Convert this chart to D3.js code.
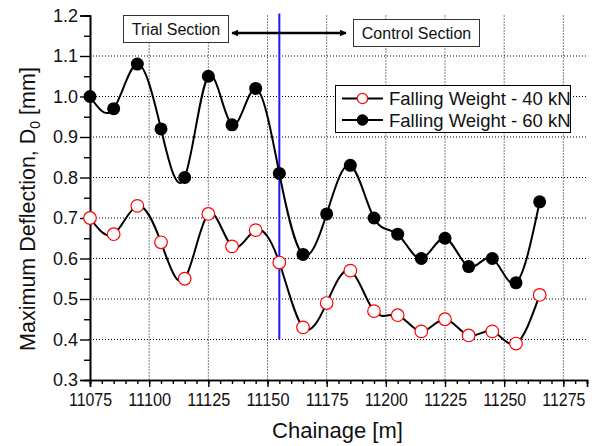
<!DOCTYPE html>
<html>
<head>
<meta charset="utf-8">
<script src="https://cdn.jsdelivr.net/npm/d3@7"></script>
<style>
  body { margin: 0; background: #fff; }
  text { font-family: "Liberation Sans", Arial, sans-serif; fill: #111; }
</style>
</head>
<body>
<script>
var chainage = [11075, 11085, 11095, 11105, 11115, 11125, 11135, 11145, 11155, 11165,
                11175, 11185, 11195, 11205, 11215, 11225, 11235, 11245, 11255, 11265];
var fw40 = [0.70, 0.66, 0.73, 0.64, 0.55, 0.71, 0.63, 0.67, 0.59, 0.43,
            0.49, 0.57, 0.47, 0.46, 0.42, 0.45, 0.41, 0.42, 0.39, 0.51];
var fw60 = [1.00, 0.97, 1.08, 0.92, 0.80, 1.05, 0.93, 1.02, 0.81, 0.61,
            0.71, 0.83, 0.70, 0.66, 0.60, 0.65, 0.58, 0.60, 0.54, 0.74];
var xTicks = [11075, 11100, 11125, 11150, 11175, 11200, 11225, 11250, 11275];
var yTicks = [0.3, 0.4, 0.5, 0.6, 0.7, 0.8, 0.9, 1.0, 1.1, 1.2];
var divider = 11155;

var width = 594;
var height = 446;
var margin = { left: 90, right: 7, top: 15.5, bottom: 66 };

var x = d3.scaleLinear()
  .domain([11075, 11285])
  .range([margin.left, width - margin.right]);

var y = d3.scaleLinear()
  .domain([0.3, 1.2])
  .range([height - margin.bottom, margin.top]);

var svg = d3.select("body")
  .append("svg")
  .attr("width", width)
  .attr("height", height);

// grid
svg.append("g").selectAll("line")
  .data(yTicks.filter(function(d) { return d > 0.35 && d < 1.15; }))
  .enter().append("line")
  .attr("x1", x.range()[0]).attr("x2", x.range()[1])
  .attr("y1", function(d) { return y(d); }).attr("y2", function(d) { return y(d); })
  .attr("stroke", "#000").attr("stroke-width", 1).attr("stroke-dasharray", "1,2");

svg.append("g").selectAll("line")
  .data(xTicks.slice(1))
  .enter().append("line")
  .attr("x1", function(d) { return x(d); }).attr("x2", function(d) { return x(d); })
  .attr("y1", y(1.2)).attr("y2", y(0.3))
  .attr("stroke", "#000").attr("stroke-width", 1).attr("stroke-dasharray", "1,2");

// axes
var xAxis = d3.axisBottom(x).tickValues(xTicks).tickFormat(d3.format("d")).tickSize(7).tickPadding(6);
var xMinor = d3.axisBottom(x).tickValues(d3.range(11075, 11286, 5)).tickFormat("").tickSize(4);
var yAxis = d3.axisLeft(y).tickValues(yTicks).tickFormat(d3.format(".1f")).tickSize(10).tickPadding(2);
var yMinor = d3.axisLeft(y).tickValues(d3.range(0.35, 1.2, 0.1)).tickFormat("").tickSize(6);

function style(g) {
  g.select(".domain").attr("stroke", "#000").attr("stroke-width", 1.6);
  g.selectAll(".tick line").attr("stroke", "#000").attr("stroke-width", 1.4);
  g.selectAll(".tick text").attr("font-size", 18).attr("font-family", "Liberation Sans, Arial, sans-serif").attr("fill", "#111");
}

svg.append("g").attr("transform", "translate(0," + y(0.3) + ")").call(xMinor).call(style);
svg.append("g").attr("transform", "translate(0," + y(0.3) + ")").call(xAxis).call(style)
  .selectAll(".tick text").attr("textLength", 43).attr("lengthAdjust", "spacingAndGlyphs");
svg.append("g").attr("transform", "translate(" + x(11075) + ",0)").call(yMinor).call(style);
svg.append("g").attr("transform", "translate(" + x(11075) + ",0)").call(yAxis).call(style);

// axis titles
svg.append("text")
  .attr("x", 337.5)
  .attr("y", 438)
  .attr("text-anchor", "middle")
  .attr("font-size", 22)
  .text("Chainage [m]");

var yl = svg.append("text")
  .attr("transform", "translate(35," + 209 + ") rotate(-90)")
  .attr("text-anchor", "middle")
  .attr("font-size", 21.5);
yl.append("tspan").text("Maximum Deflection, D");
yl.append("tspan").attr("font-size", 14).attr("dy", 5).text("0");
yl.append("tspan").attr("dy", -5).text(" [mm]");

// divider
svg.append("line")
  .attr("x1", x(divider)).attr("x2", x(divider))
  .attr("y1", y(1.2) - 2).attr("y2", y(0.4))
  .attr("stroke", "#1a1aff").attr("stroke-width", 2);

// curves
var line = d3.line()
  .x(function(d) { return x(d[0]); })
  .y(function(d) { return y(d[1]); })
  .curve(d3.curveNatural);

var s40 = chainage.map(function(c, i) { return [c, fw40[i]]; });
var s60 = chainage.map(function(c, i) { return [c, fw60[i]]; });

svg.append("path").datum(s40).attr("d", line)
  .attr("fill", "none").attr("stroke", "#000").attr("stroke-width", 2);
svg.append("path").datum(s60).attr("d", line)
  .attr("fill", "none").attr("stroke", "#000").attr("stroke-width", 2);

svg.append("g").selectAll("circle").data(s60).enter().append("circle")
  .attr("cx", function(d) { return x(d[0]); })
  .attr("cy", function(d) { return y(d[1]); })
  .attr("r", 6.5).attr("fill", "#000");

svg.append("g").selectAll("circle").data(s40).enter().append("circle")
  .attr("cx", function(d) { return x(d[0]); })
  .attr("cy", function(d) { return y(d[1]); })
  .attr("r", 6.3).attr("fill", "#fff").attr("stroke", "#f00").attr("stroke-width", 1.2);

// annotations
svg.append("rect").attr("x", 123.5).attr("y", 15.5).attr("width", 105).attr("height", 27)
  .attr("fill", "#fff").attr("stroke", "#333").attr("stroke-width", 1);
svg.append("text").attr("x", 176).attr("y", 34.5).attr("text-anchor", "middle")
  .attr("font-size", 16).text("Trial Section");

svg.append("rect").attr("x", 353.5).attr("y", 19.5).attr("width", 126).attr("height", 27)
  .attr("fill", "#fff").attr("stroke", "#333").attr("stroke-width", 1);
svg.append("text").attr("x", 416.5).attr("y", 38.7).attr("text-anchor", "middle")
  .attr("font-size", 16).text("Control Section");

var defs = svg.append("defs");
defs.append("marker").attr("id", "ah").attr("viewBox", "0 0 10 10")
  .attr("refX", 9).attr("refY", 5).attr("markerWidth", 4.5).attr("markerHeight", 2.8)
  .attr("orient", "auto-start-reverse")
  .append("path").attr("d", "M0,0L10,5L0,10Z").attr("fill", "#000");
svg.append("line").attr("x1", 232).attr("x2", 346).attr("y1", 33).attr("y2", 33)
  .attr("stroke", "#000").attr("stroke-width", 2.4)
  .attr("marker-start", "url(#ah)").attr("marker-end", "url(#ah)");

// legend
var lg = svg.append("g");
lg.append("rect").attr("x", 335.5).attr("y", 85.5).attr("width", 235).attr("height", 47)
  .attr("fill", "#fff").attr("stroke", "#000").attr("stroke-width", 1);
var legendItems = [
  { name: "Falling Weight - 40 kN", fill: "#fff", stroke: "#f00" },
  { name: "Falling Weight - 60 kN", fill: "#000", stroke: "#000" }
];
legendItems.forEach(function(it, i) {
  var cy = 98.5 + i * 21.5;
  lg.append("line").attr("x1", 342).attr("x2", 383).attr("y1", cy).attr("y2", cy)
    .attr("stroke", "#000").attr("stroke-width", 2);
  lg.append("circle").attr("cx", 362.5).attr("cy", cy).attr("r", 5.2)
    .attr("fill", it.fill).attr("stroke", it.stroke).attr("stroke-width", 1.2);
  lg.append("text").attr("x", 389).attr("y", cy + 6.5).attr("font-size", 18.5).text(it.name);
});
</script>
</body>
</html>
